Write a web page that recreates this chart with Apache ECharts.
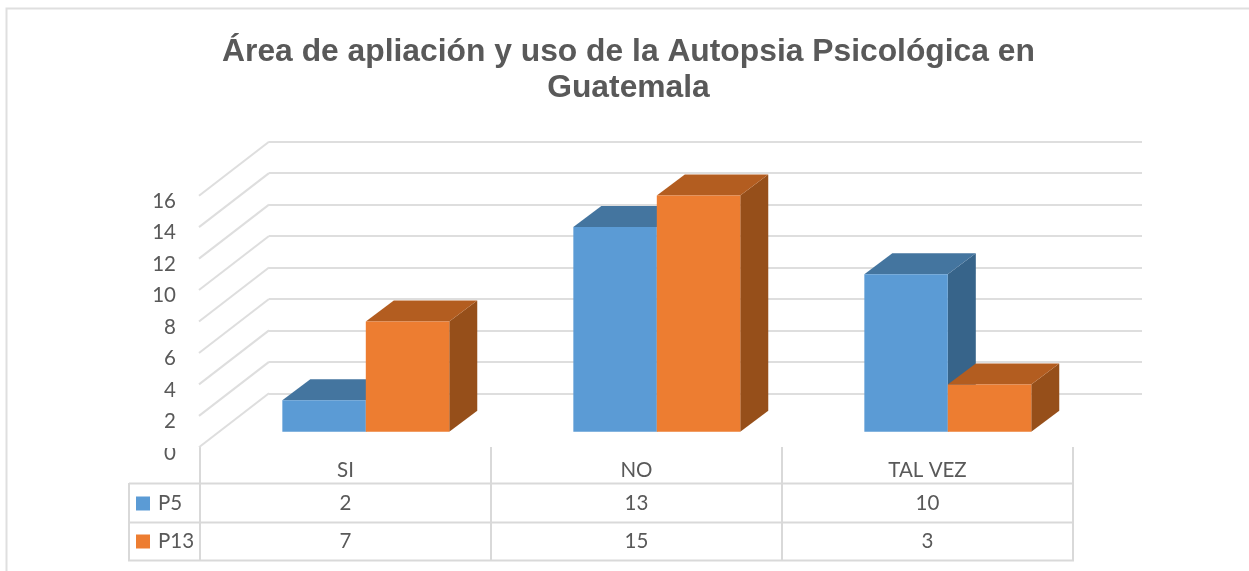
<!DOCTYPE html>
<html>
<head>
<meta charset="utf-8">
<style>html,body{margin:0;padding:0;background:#fff}#c{width:1249px;height:571px}</style>
<script src="https://cdn.jsdelivr.net/npm/echarts@6/dist/echarts.min.js"></script>
</head>
<body>
<div id="c"></div>
<script>
var titleText = 'Área de apliación y uso de la Autopsia Psicológica en\nGuatemala';
var categories = ['SI', 'NO', 'TAL VEZ'];
var p5 = [2, 13, 10];
var p13 = [7, 15, 3];
var wallTicks = [0, 2, 4, 6, 8, 10, 12, 14, 16];

var chart = echarts.init(document.getElementById('c'), null, {renderer: 'canvas'});
var GREY = '#595959', LINE = '#d9d9d9', FONT = 'Lato';

function barSeries(name, values, seriesIndex, front, top, side) {
  return {
    name: name,
    type: 'custom',
    xAxisIndex: 0,
    yAxisIndex: 0,
    itemStyle: {color: front},
    clip: false,
    z: 5 + seriesIndex,
    data: values.map(function (v, i) { return [i, v]; }),
    renderItem: function (params, api) {
      var catW = api.size([1, 0])[0];
      var barW = catW * 0.2868;
      var base = api.coord([api.value(0), 0]);
      var head = api.coord([api.value(0), api.value(1)]);
      var x0 = base[0] + 20.3 + (seriesIndex - 1) * barW;
      var x1 = x0 + barW;
      var yb = base[1] - 15.3;
      var yt = head[1] - 15.3;
      var dx = 28, dy = 21;
      function poly(pts, color) {
        return {type: 'polygon', shape: {points: pts}, style: {fill: color}};
      }
      return {
        type: 'group',
        children: [
          poly([[x1, yb], [x1, yt], [x1 + dx, yt - dy], [x1 + dx, yb - dy]], side),
          poly([[x0, yt], [x1, yt], [x1 + dx, yt - dy], [x0 + dx, yt - dy]], top),
          poly([[x0, yb], [x1, yb], [x1, yt], [x0, yt]], front)
        ]
      };
    }
  };
}

function tableRow(name, values, rowY) {
  return {
    type: 'custom',
    name: name + ' fila',
    xAxisIndex: 0,
    yAxisIndex: 0,
    clip: false,
    silent: true,
    z: 8,
    data: values.map(function (v, i) { return [i, v]; }),
    renderItem: function (params, api) {
      var c = api.coord([api.value(0), 0]);
      return {
        type: 'text',
        style: {
          x: c[0], y: rowY, text: String(api.value(1)), fill: GREY,
          font: '20.5px ' + FONT, align: 'center', verticalAlign: 'middle'
        }
      };
    }
  };
}

var option = {
  animation: false,
  backgroundColor: '#fff',
  title: {
    text: titleText,
    left: 623.5, top: 29, textAlign: 'center',
    textStyle: {fontFamily: 'Liberation Sans', fontWeight: 'bold', fontSize: 31.8, lineHeight: 36, color: GREY}
  },
  legend: {
    left: 136, top: 493, orient: 'vertical', padding: 0,
    itemWidth: 14, itemHeight: 14, itemGap: 17,
    icon: 'rect',
    data: ['P5', 'P13'],
    selectedMode: false,
    textStyle: {fontFamily: FONT, fontSize: 20.5, color: GREY, padding: [0, 0, 0, 3]}
  },
  grid: [
    {left: 200, width: 873, top: 195, height: 252},
    {left: 269, width: 873, top: 141.7, height: 251.6}
  ],
  xAxis: [
    {
      gridIndex: 0, type: 'category', data: categories,
      axisLine: {show: false},
      axisTick: {show: true, length: 114, lineStyle: {color: LINE, width: 2}},
      axisLabel: {margin: 13, fontFamily: FONT, fontSize: 20.5, color: GREY}
    },
    {gridIndex: 1, type: 'category', data: categories, show: false}
  ],
  yAxis: [
    {
      gridIndex: 0, type: 'value', min: 0, max: 16, interval: 2,
      axisLine: {show: false}, axisTick: {show: false}, splitLine: {show: false},
      axisLabel: {margin: 24, fontFamily: FONT, fontSize: 20.5, color: GREY, verticalAlign: 'top', lineHeight: 12}
    },
    {
      gridIndex: 1, type: 'value', min: 0, max: 16, interval: 2,
      axisLine: {show: false}, axisTick: {show: false}, axisLabel: {show: false},
      splitLine: {show: true, lineStyle: {color: '#dedede', width: 2}}
    }
  ],
  series: [
    {
      type: 'custom',
      name: 'pared',
      xAxisIndex: 1,
      yAxisIndex: 1,
      clip: false,
      silent: true,
      z: 1,
      data: wallTicks.map(function (v) { return [0, v]; }),
      renderItem: function (params, api) {
        var y = api.coord([0, api.value(1)])[1];
        var x = params.coordSys.x;
        return {
          type: 'line',
          shape: {x1: x, y1: y, x2: x - 70, y2: y + 54},
          style: {stroke: '#dedede', lineWidth: 2}
        };
      }
    },
    barSeries('P5', p5, 0, '#5B9BD5', '#44759F', '#37648A'),
    barSeries('P13', p13, 1, '#ED7D31', '#B35D20', '#964F1A'),
    tableRow('P5', p5, 503),
    tableRow('P13', p13, 541)
  ],
  graphic: [
    {type: 'polyline', z: 0, shape: {points: [[6.5, 571], [6.5, 8.5], [1249, 8.5]]}, style: {stroke: '#dfdfdf', lineWidth: 2, fill: 'none'}},
    {type: 'rect', z: 20, shape: {x: 150, y: 438, width: 40, height: 10}, style: {fill: '#fff'}},
    {type: 'line', z: 20, shape: {x1: 129, y1: 483.5, x2: 1073, y2: 483.5}, style: {stroke: LINE, lineWidth: 2}},
    {type: 'line', z: 20, shape: {x1: 129, y1: 522.5, x2: 1073, y2: 522.5}, style: {stroke: LINE, lineWidth: 2}},
    {type: 'line', z: 20, shape: {x1: 128, y1: 560.5, x2: 1074, y2: 560.5}, style: {stroke: LINE, lineWidth: 2}},
    {type: 'line', z: 20, shape: {x1: 129, y1: 483, x2: 129, y2: 561}, style: {stroke: LINE, lineWidth: 2}}
  ]
};
chart.setOption(option);
</script>
</body>
</html>
